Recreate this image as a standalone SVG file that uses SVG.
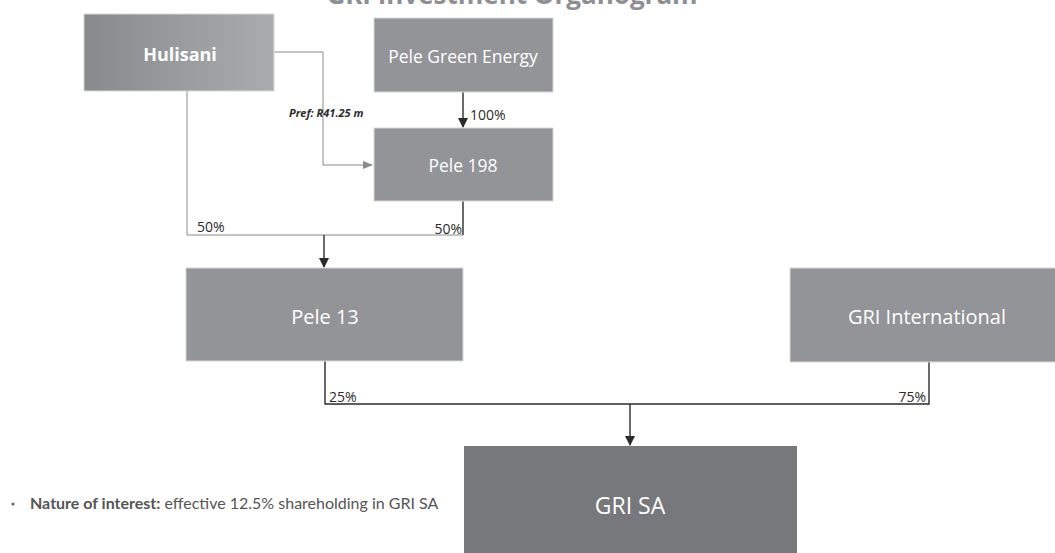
<svg xmlns="http://www.w3.org/2000/svg" width="1055" height="553" viewBox="0 0 1055 553">
<defs>
<linearGradient id="gH" x1="0" y1="0" x2="1" y2="0">
<stop offset="0" stop-color="#88898d"/>
<stop offset="1" stop-color="#abacb0"/>
</linearGradient>
<marker id="aD" markerWidth="10" markerHeight="10" refX="9" refY="5" orient="auto" markerUnits="userSpaceOnUse">
<path d="M0,0 L10,5 L0,10 Z" fill="#2b2b2b"/>
</marker>
<marker id="aG" markerWidth="10" markerHeight="10" refX="9" refY="5" orient="auto" markerUnits="userSpaceOnUse">
<path d="M0,1 L10,5 L0,9 Z" fill="#8a8a8a"/>
</marker>
</defs>
<style>
.box{fill:#939498;stroke:#d8d8da;stroke-width:1}
.nt{font-family:"Open Sans","DejaVu Sans",sans-serif;font-size:17.5px;fill:#ffffff;text-anchor:middle;dominant-baseline:central}
.dk{fill:none;stroke:#2b2b2b;stroke-width:1.4}
.gy{fill:none;stroke:#8a8a8a;stroke-width:1}
.pc{font-family:"Open Sans","DejaVu Sans",sans-serif;font-size:14px;fill:#2b2b2b}
</style>
<rect width="1055" height="553" fill="#ffffff"/>
<text x="512" y="4" font-family="Open Sans, DejaVu Sans, sans-serif" font-size="26" font-weight="bold" fill="#8e8f93" text-anchor="middle">GRI Investment Organogram</text>
<g id="connectors">
<polyline class="gy" points="274,52 323,52 323,165 372,165" marker-end="url(#aG)"/>
<polyline class="gy" points="187,91 187,235 463,235"/>
<polyline class="dk" points="463,201 463,235"/>
<line class="dk" x1="324" y1="235" x2="324" y2="267" marker-end="url(#aD)"/>
<line class="dk" x1="463" y1="92" x2="463" y2="127" marker-end="url(#aD)"/>
<polyline class="dk" points="325,361 325,404 929,404 929,362"/>
<line class="dk" x1="630" y1="404" x2="630" y2="445" marker-end="url(#aD)"/>
<text x="289" y="117" font-family="Open Sans, DejaVu Sans, sans-serif" font-size="11" font-weight="bold" font-style="italic" fill="#2b2b2b">Pref: R41.25 m</text>
<text class="pc" x="470" y="120">100%</text>
<text class="pc" x="197" y="232">50%</text>
<text class="pc" x="462" y="234" text-anchor="end">50%</text>
<text class="pc" x="329" y="402">25%</text>
<text class="pc" x="926" y="402" text-anchor="end">75%</text>
</g>
<g id="hulisani">
<rect x="84" y="14" width="190" height="77" fill="url(#gH)" stroke="#d8d8da"/>
<text class="nt" x="180" y="54" style="font-weight:bold;font-size:18px">Hulisani</text>
</g>
<g id="pele-green-energy">
<rect class="box" x="374" y="18" width="179" height="74"/>
<text class="nt" x="463" y="56">Pele Green Energy</text>
</g>
<g id="pele-198">
<rect class="box" x="374" y="128" width="179" height="73"/>
<text class="nt" x="463" y="165">Pele 198</text>
</g>
<g id="pele-13">
<rect class="box" x="186" y="268" width="277" height="93"/>
<text class="nt" x="325" y="316" style="font-size:20px">Pele 13</text>
</g>
<g id="gri-international">
<rect class="box" x="790" y="268" width="266" height="94"/>
<text class="nt" x="927" y="316" style="font-size:20px">GRI International</text>
</g>
<g id="gri-sa">
<rect x="464" y="446" width="333" height="108" fill="#77787c"/>
<text class="nt" x="630" y="505" style="font-size:23px">GRI SA</text>
</g>
<g id="note">
<circle cx="13" cy="504" r="1.6" fill="#6a6a6a"/>
<text x="30" y="509" font-family="Lato, Open Sans, sans-serif" font-size="16" fill="#555555"><tspan font-weight="bold">Nature of interest:</tspan> effective 12.5% shareholding in GRI SA</text>
</g>
</svg>
